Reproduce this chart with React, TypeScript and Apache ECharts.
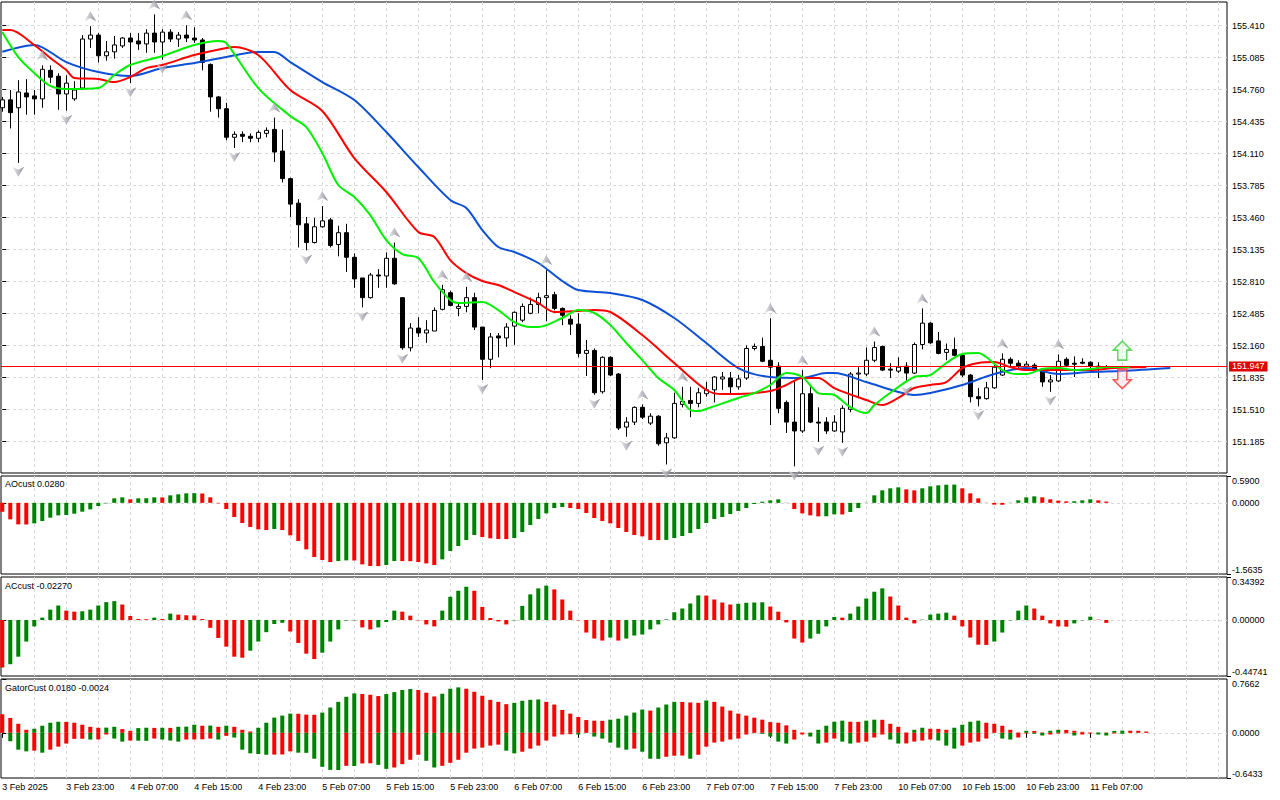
import React, { useEffect, useRef } from "react";
import * as echarts from "echarts";

// ---------- time axis labels (one label every 8 hourly bars) ----------
const timeLabels = [
  "3 Feb 2025", "3 Feb 23:00", "4 Feb 07:00", "4 Feb 15:00", "4 Feb 23:00", "5 Feb 07:00",
  "5 Feb 15:00", "5 Feb 23:00", "6 Feb 07:00", "6 Feb 15:00", "6 Feb 23:00", "7 Feb 07:00",
  "7 Feb 15:00", "7 Feb 23:00", "10 Feb 07:00", "10 Feb 15:00", "10 Feb 23:00", "11 Feb 07:00",
];

// ---------- OHLC (H1 bars) ----------
const opens = [
  154.577, 154.657, 154.577, 154.727, 154.697, 154.667, 154.957, 154.897, 154.717, 154.667,
  154.777, 155.275, 155.315, 155.105, 155.145, 155.205, 155.285, 155.255, 155.225, 155.335,
  155.245, 155.345, 155.275, 155.315, 155.285, 155.265, 155.017, 154.687, 154.567, 154.277,
  154.307, 154.287, 154.267, 154.317, 154.357, 154.137, 153.857, 153.608, 153.398, 153.208,
  153.368, 153.438, 153.188, 153.308, 153.058, 152.848, 152.648, 152.878, 152.868, 153.048,
  152.648, 152.139, 152.339, 152.289, 152.309, 152.529, 152.698, 152.539, 152.559, 152.648,
  152.349, 152.022, 152.259, 152.239, 152.359, 152.419, 152.489, 152.579, 152.648, 152.678,
  152.539, 152.429, 152.379, 152.082, 152.112, 151.692, 152.042, 151.872, 151.334, 151.384,
  151.534, 151.374, 151.444, 151.174, 151.224, 151.564, 151.604, 151.574, 151.672, 151.712,
  151.822, 151.832, 151.742, 151.832, 152.132, 152.152, 152.012, 151.952, 151.584, 151.384,
  151.294, 151.672, 151.384, 151.384, 151.294, 151.284, 151.514, 151.872, 151.872, 152.012,
  152.152, 151.922, 151.902, 151.952, 151.882, 152.172, 152.389, 152.209, 152.092, 152.122,
  152.062, 151.862, 151.642, 151.622, 151.732, 151.862, 152.022, 151.982, 151.952, 151.962,
  151.922, 151.792, 151.802, 152.022, 151.982, 151.992, 151.992, 151.952, 151.942,
];
const closes = [
  154.657, 154.527, 154.737, 154.687, 154.667, 154.967, 154.887, 154.717, 154.827, 154.757,
  155.275, 155.315, 155.105, 155.145, 155.215, 155.285, 155.245, 155.225, 155.335, 155.245,
  155.345, 155.275, 155.315, 155.285, 155.265, 155.037, 154.687, 154.567, 154.277, 154.307,
  154.287, 154.267, 154.327, 154.347, 154.127, 153.857, 153.598, 153.388, 153.208, 153.368,
  153.428, 153.178, 153.308, 153.058, 152.838, 152.648, 152.878, 152.868, 153.048, 152.788,
  152.139, 152.339, 152.289, 152.319, 152.519, 152.728, 152.569, 152.559, 152.648, 152.349,
  152.022, 152.249, 152.239, 152.349, 152.499, 152.559, 152.579, 152.648, 152.668, 152.539,
  152.469, 152.379, 152.082, 152.112, 151.682, 152.042, 151.862, 151.324, 151.384, 151.534,
  151.434, 151.444, 151.164, 151.224, 151.574, 151.594, 151.574, 151.682, 151.712, 151.842,
  151.842, 151.742, 151.822, 152.132, 152.152, 152.002, 151.942, 151.524, 151.384, 151.294,
  151.672, 151.384, 151.374, 151.294, 151.384, 151.524, 151.872, 151.882, 152.012, 152.142,
  151.912, 151.912, 151.942, 151.882, 152.172, 152.389, 152.189, 152.082, 152.122, 152.062,
  151.862, 151.642, 151.622, 151.732, 151.942, 152.022, 151.982, 151.952, 151.972, 151.922,
  151.792, 151.812, 152.002, 151.962, 151.972, 151.982, 151.952, 151.942, 151.947,
];
const highs = [
  154.687, 154.757, 154.857, 154.867, 154.757, 155.007, 155.007, 154.927, 154.907, 154.847,
  155.315, 155.405, 155.335, 155.255, 155.305, 155.295, 155.335, 155.335, 155.375, 155.525,
  155.375, 155.375, 155.345, 155.415, 155.395, 155.285, 155.027, 154.697, 154.627, 154.337,
  154.337, 154.317, 154.347, 154.377, 154.477, 154.357, 153.867, 153.648, 153.468, 153.458,
  153.578, 153.458, 153.378, 153.398, 153.098, 152.848, 152.898, 152.938, 153.108, 153.208,
  152.648, 152.389, 152.449, 152.419, 152.549, 152.778, 152.718, 152.599, 152.758, 152.698,
  152.349, 152.289, 152.289, 152.389, 152.509, 152.589, 152.648, 152.698, 152.928, 152.708,
  152.549, 152.469, 152.489, 152.219, 152.132, 152.052, 152.052, 151.882, 151.434, 151.544,
  151.564, 151.474, 151.454, 151.274, 151.682, 151.742, 151.742, 151.732, 151.792, 151.852,
  151.892, 151.892, 151.862, 152.162, 152.182, 152.242, 152.439, 151.992, 151.604, 151.812,
  151.912, 151.742, 151.534, 151.434, 151.454, 151.554, 151.892, 151.942, 152.142, 152.202,
  152.162, 151.982, 152.042, 151.992, 152.192, 152.539, 152.399, 152.299, 152.182, 152.242,
  152.082, 151.872, 151.732, 151.792, 151.972, 152.082, 152.042, 152.012, 152.002, 151.982,
  151.932, 151.862, 152.072, 152.042, 152.052, 152.032, 152.002, 151.992, 151.962,
];
const lows = [
  154.537, 154.367, 154.017, 154.507, 154.507, 154.577, 154.827, 154.557, 154.547, 154.647,
  154.757, 155.185, 155.037, 155.055, 155.075, 155.185, 154.827, 155.165, 155.135, 155.135,
  155.065, 155.245, 155.195, 155.245, 155.235, 154.957, 154.537, 154.477, 154.247, 154.167,
  154.227, 154.227, 154.227, 154.277, 154.027, 153.818, 153.468, 153.158, 153.128, 153.198,
  153.358, 153.158, 153.068, 152.908, 152.748, 152.549, 152.638, 152.748, 152.748, 152.778,
  152.119, 152.102, 152.249, 152.189, 152.309, 152.519, 152.559, 152.459, 152.499, 152.319,
  151.812, 151.932, 152.042, 152.149, 152.169, 152.399, 152.479, 152.489, 152.409, 152.519,
  152.369, 152.269, 152.042, 151.852, 151.662, 151.672, 151.852, 151.304, 151.234, 151.354,
  151.414, 151.354, 151.144, 150.954, 151.214, 151.534, 151.434, 151.534, 151.642, 151.584,
  151.712, 151.672, 151.712, 151.812, 152.112, 151.992, 151.354, 151.474, 151.274, 150.934,
  151.274, 151.374, 151.184, 151.264, 151.284, 151.174, 151.484, 151.632, 151.852, 151.992,
  151.902, 151.832, 151.882, 151.792, 151.872, 152.122, 152.179, 152.072, 152.012, 152.052,
  151.842, 151.584, 151.544, 151.612, 151.722, 151.852, 151.942, 151.912, 151.912, 151.892,
  151.742, 151.692, 151.792, 151.942, 151.842, 151.972, 151.932, 151.832, 151.932,
];

// ---------- Bill Williams fractals (bar indices) ----------
const fractalUpBars = [5, 11, 19, 23, 34, 40, 49, 55, 58, 68, 80, 85, 96, 100, 109, 115, 125, 132];
const fractalDownBars = [2, 8, 16, 20, 29, 38, 45, 50, 60, 74, 78, 83, 99, 102, 105, 113, 122, 131];

// ---------- Alligator lines [bar, price] (shifted forward) ----------
const jawLine = [
  [0, 155.145], [4, 155.215], [8, 155.041], [12, 154.94], [16, 154.899], [20, 154.98], [24, 155.031],
  [28, 155.092], [32, 155.143], [34, 155.143], [36, 155.041], [40, 154.838], [44, 154.655], [48, 154.33],
  [52, 153.975], [56, 153.64], [58, 153.558], [60, 153.335], [62, 153.162], [64, 153.112], [67, 153.0],
  [70, 152.817], [72, 152.725], [76, 152.695], [80, 152.624], [84, 152.441], [88, 152.187], [92, 151.933],
  [96, 151.842], [100, 151.832], [103, 151.882], [104, 151.882], [108, 151.791], [112, 151.69],
  [114, 151.659], [116, 151.679], [120, 151.761], [124, 151.872], [128, 151.933], [132, 151.872],
  [136, 151.893], [140, 151.903], [146, 151.933],
];
const teethLine = [
  [0, 155.366], [1, 155.366], [4, 155.214], [6, 155.082], [8, 154.96], [9, 154.879], [12, 154.869],
  [14, 154.838], [16, 154.889], [18, 154.98], [20, 155.011], [24, 155.112], [28, 155.183], [29, 155.194],
  [32, 155.112], [36, 154.757], [40, 154.544], [44, 154.066], [48, 153.721], [52, 153.315], [54, 153.264],
  [56, 153.03], [58, 152.898], [60, 152.817], [62, 152.776], [64, 152.705], [67, 152.593], [69, 152.502],
  [72, 152.512], [74, 152.522], [76, 152.502], [80, 152.268], [84, 151.984], [88, 151.71], [90, 151.669],
  [92, 151.669], [96, 151.7], [98, 151.761], [100, 151.832], [102, 151.832], [104, 151.73], [108, 151.608],
  [110, 151.557], [112, 151.629], [114, 151.73], [116, 151.761], [118, 151.791], [120, 151.933],
  [122, 151.984], [124, 151.994], [126, 151.943], [128, 151.913], [136, 151.913], [139, 151.933],
  [143, 151.943],
];
const lipsLine = [
  [0, 155.346], [2, 155.092], [4, 154.93], [6, 154.798], [8, 154.767], [12, 154.777], [14, 154.909],
  [16, 155.011], [20, 155.102], [24, 155.214], [27, 155.255], [28, 155.234], [32, 154.777], [36, 154.493],
  [38, 154.381], [40, 154.117], [42, 153.792], [44, 153.67], [46, 153.487], [48, 153.233], [50, 153.091],
  [52, 153.051], [54, 152.807], [56, 152.624], [57, 152.593], [60, 152.604], [62, 152.522], [64, 152.4],
  [66, 152.35], [67, 152.35], [70, 152.441], [72, 152.522], [74, 152.492], [76, 152.37], [78, 152.187],
  [80, 152.014], [82, 151.832], [84, 151.71], [86, 151.507], [87, 151.496], [88, 151.517], [92, 151.629],
  [94, 151.679], [96, 151.761], [98, 151.882], [100, 151.842], [102, 151.679], [104, 151.659],
  [106, 151.537], [108, 151.476], [109, 151.557], [112, 151.74], [114, 151.842], [116, 151.862],
  [118, 151.984], [120, 152.075], [122, 152.086], [123, 152.045], [125, 151.913], [127, 151.872],
  [128, 151.872], [130, 151.923], [132, 151.933], [134, 151.913], [136, 151.923], [138, 151.943],
  [141, 151.943],
];

// ---------- price axis ----------
const priceTicks = [
  151.185, 151.51, 151.835, 152.16, 152.485, 152.81, 153.135, 153.46, 153.785, 154.11, 154.435,
  154.76, 155.085, 155.41,
];
const priceRange = [150.867, 155.651];
const lastPrice = 151.947;
const signalUp = [[140, 152.11]];
const signalDown = [[140, 151.82]];

// ---------- Awesome Oscillator ----------
const aoValues = [
  -0.194, -0.363, -0.473, -0.475, -0.451, -0.399, -0.326, -0.275, -0.267, -0.238,
  -0.194, -0.143, -0.07, -0.011, 0.099, 0.121, 0.077, 0.099, 0.101, 0.121,
  0.118, 0.165, 0.187, 0.209, 0.212, 0.205, 0.121, -0.011, -0.136, -0.311,
  -0.443, -0.531, -0.582, -0.597, -0.575, -0.597, -0.714, -0.839, -1.022, -1.19,
  -1.256, -1.3, -1.278, -1.264, -1.266, -1.352, -1.388, -1.39, -1.366, -1.278,
  -1.28, -1.283, -1.3, -1.33, -1.366, -1.242, -1.059, -0.949, -0.817, -0.707,
  -0.751, -0.78, -0.795, -0.797, -0.773, -0.641, -0.487, -0.355, -0.231, -0.114,
  -0.092, -0.114, -0.136, -0.223, -0.333, -0.399, -0.451, -0.553, -0.641, -0.707,
  -0.736, -0.817, -0.819, -0.815, -0.773, -0.729, -0.663, -0.575, -0.443, -0.355,
  -0.311, -0.245, -0.179, -0.114, -0.026, 0.026, 0.055, 0.077, 0.004, -0.136,
  -0.231, -0.275, -0.297, -0.295, -0.253, -0.255, -0.201, -0.114, 0.004, 0.165,
  0.275, 0.319, 0.341, 0.297, 0.275, 0.319, 0.363, 0.385, 0.399, 0.401,
  0.319, 0.209, 0.099, 0.004, -0.04, -0.042, 0.004, 0.055, 0.121, 0.143,
  0.121, 0.077, 0.048, 0.033, 0.035, 0.055, 0.077, 0.055, 0.028,
];
const aoRange = [-1.5635, 0.59];

// ---------- Accelerator Oscillator ----------
const acValues = [
  -0.38, -0.353, -0.293, -0.172, -0.051, 0.019, 0.083, 0.116, 0.075, 0.067,
  0.07, 0.083, 0.116, 0.143, 0.151, 0.124, 0.032, 0.008, 0.006, 0.019,
  0.008, 0.051, 0.043, 0.038, 0.036, 0.008, -0.062, -0.143, -0.213, -0.293,
  -0.301, -0.245, -0.172, -0.097, -0.032, -0.022, -0.092, -0.183, -0.269, -0.312,
  -0.261, -0.172, -0.075, -0.005, -0.003, -0.059, -0.075, -0.059, -0.016, 0.075,
  0.067, 0.035, -0.003, -0.035, -0.051, 0.075, 0.186, 0.234, 0.266, 0.234,
  0.105, 0.016, -0.011, -0.035, -0.003, 0.113, 0.205, 0.253, 0.275, 0.245,
  0.164, 0.075, -0.003, -0.1, -0.148, -0.164, -0.14, -0.164, -0.148, -0.124,
  -0.116, -0.075, -0.035, 0.005, 0.062, 0.092, 0.132, 0.197, 0.195, 0.164,
  0.14, 0.124, 0.13, 0.138, 0.14, 0.142, 0.108, 0.067, -0.019, -0.148,
  -0.18, -0.148, -0.11, -0.051, 0.024, 0.019, 0.051, 0.108, 0.172, 0.226,
  0.253, 0.188, 0.116, 0.019, -0.027, 0.003, 0.043, 0.051, 0.059, 0.035,
  -0.051, -0.14, -0.197, -0.199, -0.172, -0.1, -0.003, 0.075, 0.116, 0.092,
  0.035, -0.027, -0.051, -0.053, -0.027, -0.003, 0.027, 0.003, -0.0227,
];
const acRange = [-0.44741, 0.34392];

// ---------- Gator Oscillator ----------
const gatorUpper = [
  0.264, 0.211, 0.129, 0.043, 0.058, 0.101, 0.144, 0.158, 0.156, 0.144,
  0.115, 0.086, 0.072, 0.074, 0.086, 0.053, 0.029, 0.067, 0.072, 0.07,
  0.072, 0.07, 0.086, 0.088, 0.115, 0.101, 0.103, 0.086, 0.101, 0.086,
  0.043, 0.019, 0.072, 0.144, 0.216, 0.245, 0.273, 0.271, 0.259, 0.257,
  0.288, 0.36, 0.441, 0.513, 0.561, 0.552, 0.542, 0.523, 0.552, 0.58,
  0.609, 0.624, 0.609, 0.571, 0.518, 0.556, 0.628, 0.647, 0.628, 0.585,
  0.528, 0.47, 0.441, 0.408, 0.427, 0.456, 0.47, 0.475, 0.441, 0.403,
  0.326, 0.273, 0.225, 0.182, 0.173, 0.171, 0.187, 0.201, 0.245, 0.288,
  0.331, 0.317, 0.36, 0.403, 0.441, 0.439, 0.432, 0.427, 0.46, 0.441,
  0.374, 0.317, 0.273, 0.245, 0.216, 0.187, 0.153, 0.144, 0.106, 0.043,
  0.005, 0.003, 0.043, 0.101, 0.158, 0.173, 0.158, 0.156, 0.173, 0.187,
  0.185, 0.129, 0.086, 0.005, 0.043, 0.072, 0.058, 0.056, 0.043, 0.072,
  0.115, 0.158, 0.173, 0.144, 0.129, 0.101, 0.043, 0.005, 0.029, 0.027,
  0.005, 0.029, 0.043, 0.041, 0.029, 0.014, 0.005, 0.006, 0.004, 0.027,
  0.031, 0.03, 0.029, 0.018,
];
const gatorLower = [
  -0.002, -0.12, -0.24, -0.264, -0.254, -0.283, -0.24, -0.197, -0.153, -0.086,
  -0.084, -0.096, -0.094, -0.024, -0.082, -0.125, -0.11, -0.112, -0.114, -0.082,
  -0.096, -0.11, -0.125, -0.096, -0.094, -0.092, -0.082, -0.096, -0.043, -0.067,
  -0.24, -0.292, -0.302, -0.312, -0.31, -0.308, -0.264, -0.283, -0.285, -0.369,
  -0.484, -0.528, -0.53, -0.47, -0.472, -0.436, -0.434, -0.456, -0.513, -0.494,
  -0.446, -0.384, -0.312, -0.398, -0.494, -0.47, -0.427, -0.384, -0.283, -0.225,
  -0.211, -0.182, -0.168, -0.254, -0.292, -0.269, -0.225, -0.182, -0.11, -0.053,
  -0.024, -0.019, -0.024, -0.002, -0.053, -0.082, -0.139, -0.211, -0.24, -0.225,
  -0.269, -0.369, -0.371, -0.341, -0.326, -0.324, -0.369, -0.312, -0.197, -0.139,
  -0.125, -0.096, -0.082, -0.024, -0.005, -0.014, -0.053, -0.125, -0.153, -0.096,
  -0.024, -0.053, -0.153, -0.139, -0.082, -0.125, -0.153, -0.139, -0.125, -0.067,
  -0.024, -0.096, -0.153, -0.151, -0.125, -0.11, -0.096, -0.11, -0.182, -0.225,
  -0.182, -0.139, -0.125, -0.082, -0.002, -0.082, -0.096, -0.067, -0.01, -0.014,
  -0.038, -0.024, -0.01, -0.008, -0.038, -0.024, -0.01, -0.024, -0.038, -0.01,
  -0.014, -0.002, -0.003, -0.0024,
];
const gatorRange = [-0.6433, 0.7662];

// ---------- styling ----------
const FONT = "'Liberation Sans', Arial, sans-serif";
const GREEN = "#008000";
const RED = "#ff0000";
const GRID_LINE = { color: "#d8d8d8", type: [3, 3], width: 1 };
const X_MIN = -0.16;
const X_MAX = 153.09;

function colored(vals: number[], useAbs: boolean) {
  return vals.map((v, i) => {
    const cur = useAbs ? Math.abs(v) : v;
    const prev = i > 0 ? (useAbs ? Math.abs(vals[i - 1]) : vals[i - 1]) : Infinity;
    return { value: [i, v], itemStyle: { color: cur > prev ? GREEN : RED } };
  });
}

function subAxes(gridIndex: number, range: number[], digits: number) {
  const [mn, mx] = range;
  const base = {
    type: "value",
    gridIndex,
    position: "right",
    min: mn,
    max: mx,
    axisLine: { show: false },
    splitLine: { show: false },
  };
  const label = { fontSize: 9, color: "#000", fontFamily: FONT, margin: 5 };
  const tick = { show: true, length: 4, lineStyle: { color: "#000" } };
  return [
    {
      ...base,
      axisTick: { ...tick, customValues: [0] },
      axisLabel: { ...label, customValues: [0], formatter: (v: number) => v.toFixed(digits) },
      splitLine: { show: true, lineStyle: GRID_LINE },
    },
    {
      ...base,
      axisTick: { ...tick, customValues: [mx] },
      axisLabel: { ...label, customValues: [mx], verticalAlign: "top", formatter: () => mx.toFixed(digits) },
    },
    {
      ...base,
      axisTick: { ...tick, customValues: [mn] },
      axisLabel: { ...label, customValues: [mn], verticalAlign: "bottom", formatter: () => mn.toFixed(digits) },
    },
  ];
}

function buildOption() {
  const splitBars: number[] = [];
  for (let b = 4; b <= 152; b += 4) splitBars.push(b);
  const labelBars = timeLabels.map((_, k) => k * 8);

  const grids = [
    { left: 1, top: 2, width: 1226, height: 471 },
    { left: 1, top: 476, width: 1226, height: 98 },
    { left: 1, top: 577, width: 1226, height: 99 },
    { left: 1, top: 679, width: 1226, height: 99 },
  ].map((g) => ({
    ...g,
    show: true,
    borderColor: "#000",
    borderWidth: 1,
    backgroundColor: "#fff",
    containLabel: false,
    outerBoundsMode: "none",
  }));

  const xAxes: any[] = grids.map((_, g) => ({
    type: "value",
    gridIndex: g,
    min: X_MIN,
    max: X_MAX,
    axisLine: { show: false },
    axisTick: { show: false, customValues: splitBars },
    axisLabel: { show: false },
    splitLine: { show: true, lineStyle: GRID_LINE },
  }));
  xAxes.push({
    type: "value",
    gridIndex: 3,
    position: "bottom",
    min: X_MIN,
    max: X_MAX,
    axisLine: { show: false },
    axisTick: { show: true, customValues: labelBars, length: 5, lineStyle: { color: "#000" } },
    axisLabel: {
      customValues: labelBars,
      formatter: (v: number) => timeLabels[Math.round(v / 8)] ?? "",
      align: "left",
      margin: 4,
      fontSize: 9,
      color: "#000",
      fontFamily: FONT,
    },
    splitLine: { show: false },
  });

  const yAxes: any[] = [
    {
      type: "value",
      gridIndex: 0,
      position: "right",
      min: priceRange[0],
      max: priceRange[1],
      axisLine: { show: false },
      axisTick: { show: true, customValues: priceTicks, length: 4, lineStyle: { color: "#000" } },
      axisLabel: {
        customValues: priceTicks,
        formatter: (v: number) => v.toFixed(3),
        fontSize: 9,
        color: "#000",
        fontFamily: FONT,
        margin: 5,
      },
      splitLine: { show: true, lineStyle: GRID_LINE },
    },
    ...subAxes(1, aoRange, 4),
    ...subAxes(2, acRange, 5),
    ...subAxes(3, gatorRange, 4),
  ];

  const fractalColor = new echarts.graphic.LinearGradient(0, 0, 1, 0, [
    { offset: 0, color: "#e6e6ee" },
    { offset: 0.5, color: "#b0b0ba" },
    { offset: 1, color: "#74747e" },
  ]);

  const lineSeries = (data: number[][], color: string) => ({
    type: "line",
    xAxisIndex: 0,
    yAxisIndex: 0,
    data,
    showSymbol: false,
    symbol: "none",
    smooth: 0.3,
    lineStyle: { color, width: 2 },
    z: 3,
    silent: true,
  });

  const series: any[] = [
    {
      type: "candlestick",
      xAxisIndex: 0,
      yAxisIndex: 0,
      data: opens.map((o, i) => [i, o, closes[i], lows[i], highs[i]]),
      encode: { x: 0, y: [1, 2, 3, 4] },
      barWidth: 4,
      itemStyle: {
        color: "#ffffff",
        color0: "#000000",
        borderColor: "#000000",
        borderColor0: "#000000",
        borderWidth: 1,
      },
      z: 2,
      silent: true,
      markLine: {
        silent: true,
        symbol: ["none", "none"],
        lineStyle: { color: "#ff0000", width: 1, type: "solid" },
        label: {
          show: true,
          position: "end",
          distance: 2,
          formatter: lastPrice.toFixed(3),
          color: "#ffffff",
          backgroundColor: "#e00000",
          padding: [1, 3, 0, 3],
          fontSize: 9,
          fontFamily: FONT,
        },
        emphasis: { disabled: true },
        data: [{ yAxis: lastPrice }],
      },
    },
    lineSeries(jawLine, "#0d50d6"),
    lineSeries(teethLine, "#ff0000"),
    lineSeries(lipsLine, "#00f000"),
    {
      type: "scatter",
      xAxisIndex: 0,
      yAxisIndex: 0,
      data: fractalUpBars.map((i) => [i, highs[i]]),
      symbol: "path://M6,0L12,10L6,7L0,10Z",
      symbolSize: [12, 10],
      symbolOffset: [0, -10],
      itemStyle: { color: fractalColor },
      z: 4,
      silent: true,
    },
    {
      type: "scatter",
      xAxisIndex: 0,
      yAxisIndex: 0,
      data: fractalDownBars.map((i) => [i, lows[i]]),
      symbol: "path://M0,0L6,3L12,0L6,10Z",
      symbolSize: [12, 10],
      symbolOffset: [0, 9],
      itemStyle: { color: fractalColor },
      z: 4,
      silent: true,
    },
    {
      type: "scatter",
      xAxisIndex: 0,
      yAxisIndex: 0,
      data: signalUp,
      symbol: "path://M9,0L18,9L13.5,9L13.5,19L4.5,19L4.5,9L0,9Z",
      symbolSize: [18, 19],
      itemStyle: { color: "rgba(220,255,220,0.6)", borderColor: "#3ccc3c", borderWidth: 1.5 },
      z: 4,
      silent: true,
    },
    {
      type: "scatter",
      xAxisIndex: 0,
      yAxisIndex: 0,
      data: signalDown,
      symbol: "path://M4.5,0L13.5,0L13.5,10L18,10L9,19L0,10L4.5,10Z",
      symbolSize: [18, 19],
      itemStyle: { color: "rgba(255,225,235,0.6)", borderColor: "#ff3030", borderWidth: 1.5 },
      z: 4,
      silent: true,
    },
    {
      type: "bar",
      xAxisIndex: 1,
      yAxisIndex: 1,
      data: colored(aoValues, false),
      barWidth: 4,
      silent: true,
    },
    {
      type: "bar",
      xAxisIndex: 2,
      yAxisIndex: 4,
      data: colored(acValues, false),
      barWidth: 4,
      silent: true,
    },
    {
      type: "bar",
      xAxisIndex: 3,
      yAxisIndex: 7,
      data: colored(gatorUpper, true),
      barWidth: 4,
      barGap: "-100%",
      silent: true,
    },
    {
      type: "bar",
      xAxisIndex: 3,
      yAxisIndex: 7,
      data: colored(gatorLower, true),
      barWidth: 4,
      barGap: "-100%",
      silent: true,
    },
  ];

  const titleStyle = { fontSize: 9, fontWeight: "normal", color: "#000", fontFamily: FONT };
  return {
    animation: false,
    backgroundColor: "#ffffff",
    title: [
      { text: "AOcust 0.0280", left: 5, top: 479, padding: 0, textStyle: titleStyle },
      { text: "ACcust -0.02270", left: 5, top: 581, padding: 0, textStyle: titleStyle },
      { text: "GatorCust 0.0180 -0.0024", left: 5, top: 683, padding: 0, textStyle: titleStyle },
    ],
    grid: grids,
    xAxis: xAxes,
    yAxis: yAxes,
    series,
  };
}

export default function App() {
  const ref = useRef<HTMLDivElement>(null);
  useEffect(() => {
    document.body.style.margin = "0";
    const chart = echarts.init(ref.current as HTMLDivElement, null, { renderer: "svg" });
    chart.setOption(buildOption() as any);
    return () => chart.dispose();
  }, []);
  return <div ref={ref} style={{ width: 1280, height: 800, background: "#fff" }} />;
}
